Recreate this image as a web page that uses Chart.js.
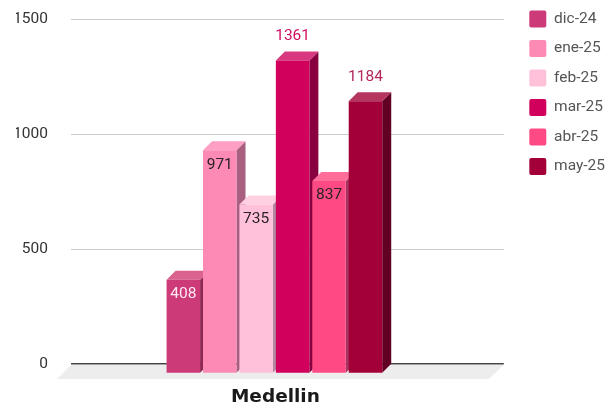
<!DOCTYPE html>
<html lang="es">

<head>
    <meta charset="UTF-8">
    <title>Medellin</title>
    <script src="https://cdn.jsdelivr.net/npm/chart.js"></script>
    <style>
        body { margin: 0; background: #fff; }
    </style>
</head>

<body>
    <canvas id="grafico" width="610" height="408"></canvas>
    <script>
        const ciudad = ['Medellin'];
        const meses = ['dic-24', 'ene-25', 'feb-25', 'mar-25', 'abr-25', 'may-25'];
        const valores = [408, 971, 735, 1361, 837, 1184];
        const yTicks = [0, 500, 1000, 1500];

        const colores = ['#cc3a78', '#fd8ab4', '#ffc1da', '#d0005c', '#fe4a84', '#a30039'];
        const coloresLado = ['#8e2853', '#a85f80', '#b08aa0', '#880040', '#a83560', '#620024'];
        const coloresTope = ['#d9628f', '#ff9fc4', '#ffcfe2', '#d8387f', '#ff6d99', '#b4365f'];
        const coloresEtiqueta = ['#ffe9f2', '#2a2226', '#2a2226', '#d0105f', '#2a2226', '#b5275f'];

        // desplazamiento de la cara frontal y profundidad de las barras
        const frenteX = -13, frenteY = 9.5, fondo = 9;

        const falso3d = {
            id: 'falso3d',
            afterLayout(chart) {
                // la leyenda va un poco separada del area del grafico
                chart.legend.left += 13;
                chart.legend.right += 13;
                chart.legend.top = -2;
            },
            beforeDatasetsDraw(chart) {
                const c = chart.ctx, area = chart.chartArea;
                // piso gris
                c.fillStyle = '#ededed';
                c.beginPath();
                c.moveTo(area.left, area.bottom + 1);
                c.lineTo(area.right, area.bottom + 1);
                c.lineTo(area.right - 15, area.bottom + 15);
                c.lineTo(area.left - 14, area.bottom + 15);
                c.closePath();
                c.fill();

                // caras lateral y superior, de izquierda a derecha
                meses.forEach((m, i) => {
                    const b = chart.getDatasetMeta(i).data[0];
                    const x1 = b.x - b.width / 2 + frenteX, x2 = b.x + b.width / 2 + frenteX;
                    const y1 = b.y + frenteY, y2 = b.base + frenteY;
                    c.fillStyle = coloresLado[i];
                    c.beginPath();
                    c.moveTo(x2, y1);
                    c.lineTo(x2 + fondo, y1 - fondo);
                    c.lineTo(x2 + fondo, y2 - fondo);
                    c.lineTo(x2, y2);
                    c.closePath();
                    c.fill();
                    c.fillStyle = coloresTope[i];
                    c.beginPath();
                    c.moveTo(x1, y1);
                    c.lineTo(x1 + fondo, y1 - fondo);
                    c.lineTo(x2 + fondo, y1 - fondo);
                    c.lineTo(x2, y1);
                    c.closePath();
                    c.fill();
                });
            },
            beforeDatasetDraw(chart) {
                chart.ctx.save();
                chart.ctx.translate(frenteX, frenteY);
            },
            afterDatasetDraw(chart) {
                chart.ctx.restore();
            },
            afterDatasetsDraw(chart) {
                const c = chart.ctx;
                c.font = '15.5px Roboto';
                c.textAlign = 'center';
                c.textBaseline = 'middle';
                meses.forEach((m, i) => {
                    const b = chart.getDatasetMeta(i).data[0];
                    // las dos barras mas altas llevan la etiqueta afuera
                    const afuera = valores[i] > 1000;
                    c.fillStyle = coloresEtiqueta[i];
                    c.fillText(valores[i], b.x + frenteX, b.y + frenteY + (afuera ? -24 : 14.5));
                });
            }
        };

        new Chart(document.getElementById('grafico'), {
            type: 'bar',
            data: {
                labels: ciudad,
                datasets: meses.map((m, i) => ({
                    label: m,
                    data: [valores[i]],
                    backgroundColor: colores[i],
                    categoryPercentage: 0.505,
                    barPercentage: 0.92
                }))
            },
            plugins: [falso3d],
            options: {
                responsive: false,
                animation: false,
                clip: false,
                layout: { padding: { left: 16, top: 19, right: 8, bottom: 0 } },
                plugins: {
                    tooltip: { enabled: false },
                    legend: {
                        position: 'right',
                        align: 'start',
                        labels: {
                            boxWidth: 17,
                            boxHeight: 17,
                            padding: 12.5,
                            useBorderRadius: true,
                            borderRadius: 2,
                            color: '#555',
                            font: { family: 'Roboto', size: 15.5 }
                        }
                    }
                },
                scales: {
                    x: {
                        afterFit(axis) { axis.height = 44; },
                        grid: { display: false },
                        border: { display: false },
                        ticks: {
                            labelOffset: -12,
                            padding: 14,
                            color: '#1a1a1a',
                            font: { family: 'DejaVu Sans', size: 18.5, weight: 'bold' }
                        }
                    },
                    y: {
                        min: 0,
                        max: 1500,
                        afterBuildTicks(axis) { axis.ticks = yTicks.map(v => ({ value: v })); },
                        afterFit(axis) {
                            axis.width = 55;
                            axis.paddingTop = 0;
                            axis.paddingBottom = 0;
                        },
                        border: { display: false },
                        grid: {
                            drawTicks: false,
                            color: c => c.tick.value === 0 ? '#444' : '#ccc',
                            lineWidth: c => c.tick.value === 0 ? 1.5 : 1
                        },
                        ticks: {
                            padding: 23,
                            color: '#333',
                            callback: v => String(v),
                            font: { family: 'Roboto', size: 15.5 }
                        }
                    }
                }
            }
        });
    </script>
</body>

</html>
